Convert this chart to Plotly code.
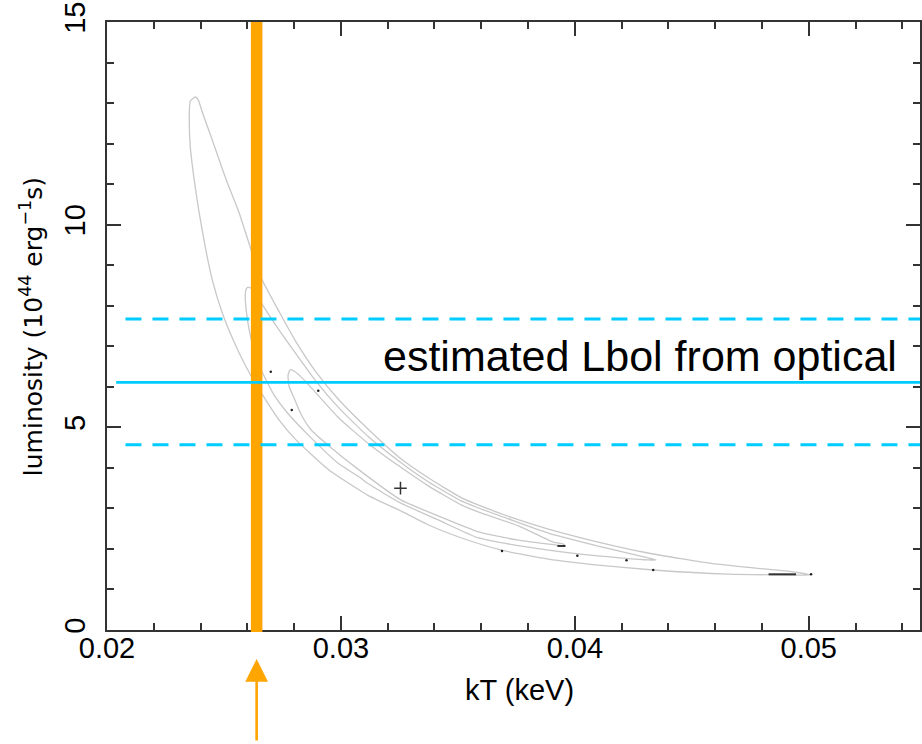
import plotly.graph_objects as go

# ---- data (kT in keV, luminosity in 1e44 erg/s) ----
# 3-sigma contour (outer)
c3_kT = [0.02377, 0.02356, 0.02352, 0.02356, 0.02373, 0.02394, 0.02420, 0.02450, 0.02493, 0.02539,
         0.02595, 0.02663, 0.02736, 0.02808, 0.02949, 0.03119, 0.03256, 0.03375, 0.03516, 0.03687,
         0.03887, 0.04100, 0.04335, 0.04655, 0.05009,
         0.04940, 0.04599, 0.04313, 0.04100, 0.03887, 0.03738, 0.03589, 0.03516, 0.03375, 0.03247,
         0.03119, 0.02991, 0.02893, 0.02808, 0.02736, 0.02663, 0.02616, 0.02565, 0.02510, 0.02450,
         0.02407, 0.02390, 0.02377]
c3_L = [13.15, 13.05, 12.76, 11.92, 11.10, 10.29, 9.45, 8.64, 7.82, 7.16,
        6.49, 5.82, 5.18, 4.69, 3.95, 3.31, 2.94, 2.59, 2.27, 1.97,
        1.75, 1.60, 1.48, 1.38, 1.36,
        1.43, 1.63, 1.90, 2.17, 2.49, 2.76, 3.08, 3.26, 3.75, 4.27,
        4.94, 5.68, 6.37, 7.11, 7.85, 8.64, 9.38, 10.29, 11.10, 12.09,
        12.78, 13.08, 13.15]

# 2-sigma contour
c2_kT = [0.02603, 0.02595, 0.02591, 0.02595, 0.02608, 0.02629, 0.02663, 0.02714, 0.02778, 0.02864,
         0.02991, 0.03077, 0.03119, 0.03256, 0.03418, 0.03589, 0.03887, 0.04100, 0.04313, 0.04347,
         0.04313, 0.04100, 0.03887, 0.03589, 0.03516, 0.03375, 0.03247, 0.03119, 0.02991, 0.02893,
         0.02821, 0.02736, 0.02663, 0.02629, 0.02603]
c2_L = [8.46, 8.41, 8.27, 7.90, 7.40, 6.91, 6.37, 5.80, 5.31, 4.79,
        4.10, 3.78, 3.60, 3.13, 2.71, 2.27, 1.97, 1.83, 1.73, 1.73,
        1.78, 2.07, 2.39, 3.01, 3.18, 3.65, 4.17, 4.76, 5.48, 6.14,
        6.71, 7.40, 8.04, 8.39, 8.46]

# 1-sigma contour (inner)
c1_kT = [0.02783, 0.02774, 0.02778, 0.02800, 0.02829, 0.02872, 0.02949, 0.03077, 0.03256, 0.03418,
         0.03589, 0.03759, 0.03917, 0.03960,
         0.03951, 0.03908, 0.03759, 0.03589, 0.03516, 0.03375, 0.03247, 0.03119, 0.02991, 0.02893,
         0.02834, 0.02804, 0.02783]
c1_L = [6.42, 6.29, 6.02, 5.72, 5.33, 4.94, 4.54, 3.95, 3.21, 2.81,
        2.42, 2.22, 2.10, 2.07,
        2.12, 2.17, 2.57, 2.91, 3.08, 3.55, 4.05, 4.59, 5.23, 5.85,
        6.22, 6.37, 6.42]

best_kT = [0.032546]
best_L = [3.50]

dots_kT = [0.027002, 0.029032, 0.027898, 0.036887, 0.040107, 0.042209, 0.043348, 0.050098]
dots_L = [6.37, 5.90, 5.43, 1.95, 1.83, 1.72, 1.48, 1.374]

dash1_kT = [0.039254, 0.039595]
dash1_L = [2.073, 2.073]
dash2_kT = [0.048281, 0.049458]
dash2_L = [1.374, 1.374]

opt_kT = 0.026397           # vertical marker (orange)
lbol = 6.11                 # estimated Lbol from optical
lbol_hi = 7.67
lbol_lo = 4.57

x_range = [0.02, 0.054755]
y_range = [0, 15]

GRAY = "#c8c8c8"
CYAN = "#00ccff"
ORANGE = "#ffa500"
AX = "#333333"

fig = go.Figure()
for kx, ly in [(c3_kT, c3_L), (c2_kT, c2_L), (c1_kT, c1_L)]:
    fig.add_trace(go.Scatter(x=kx, y=ly, mode="lines",
                             line=dict(color=GRAY, width=1.3, shape="spline", smoothing=0.5),
                             hoverinfo="skip", showlegend=False))

fig.add_trace(go.Scatter(x=dots_kT, y=dots_L, mode="markers",
                         marker=dict(color="#222222", size=2.5), showlegend=False))
for kx, ly in [(dash1_kT, dash1_L), (dash2_kT, dash2_L)]:
    fig.add_trace(go.Scatter(x=kx, y=ly, mode="lines",
                             line=dict(color="#333333", width=2), showlegend=False))
fig.add_trace(go.Scatter(x=best_kT, y=best_L, mode="markers",
                         marker=dict(symbol="cross-thin", size=9, line=dict(color="#333333", width=1.5)),
                         showlegend=False))

# orange vertical band
fig.add_shape(type="line", xref="x", yref="paper", x0=opt_kT, x1=opt_kT, y0=-2/608, y1=1,
              line=dict(color=ORANGE, width=11.5))

# cyan Lbol lines
fig.add_shape(type="line", xref="x", yref="y", x0=0.020392, x1=x_range[1], y0=lbol, y1=lbol,
              line=dict(color=CYAN, width=2.7))
for yv in (lbol_hi, lbol_lo):
    fig.add_shape(type="line", xref="x", yref="y", x0=0.020789, x1=x_range[1], y0=yv, y1=yv,
                  line=dict(color=CYAN, width=3, dash="16px,11px"))

fig.add_annotation(x=0.02 + (641 - 107) / 23450, y=6.76, xref="x", yref="y",
                   text="estimated Lbol from optical", showarrow=False,
                   font=dict(family="Liberation Sans, Arial", size=43, color="black"),
                   xanchor="center", yanchor="middle")

# arrow below axis
fig.add_annotation(x=opt_kT, y=-29/608, xref="x", yref="paper", ax=0, ay=83,
                   text="", showarrow=True, arrowhead=2, arrowsize=1.75, arrowwidth=2.6,
                   arrowcolor=ORANGE)

# axis titles
fig.add_annotation(x=0.02 + (521 - 107) / 23450, y=-60/608, xref="x", yref="paper",
                   text="kT (keV)", showarrow=False,
                   font=dict(family="Liberation Sans, Arial", size=29, color="black"),
                   xanchor="center", yanchor="middle")
fig.add_annotation(x=(31 - 107) / 815, y=(630 - 327) / 608, xref="paper", yref="paper",
                   text="luminosity (10<sup>44</sup> erg<sup>−1</sup>s)", textangle=-90,
                   showarrow=False,
                   font=dict(family="DejaVu Sans", size=25, color="black"),
                   xanchor="center", yanchor="middle")

tickfont = dict(family="Liberation Sans, Arial", size=29, color="black")
fig.update_xaxes(range=x_range, tick0=0.02, dtick=0.01, tickformat=".2f",
                 ticks="inside", ticklen=14, tickwidth=1.5, tickcolor=AX,
                 showline=True, linecolor=AX, linewidth=1.5, mirror="allticks",
                 minor=dict(dtick=0.002, ticks="inside", ticklen=7, tickwidth=1.5, tickcolor=AX),
                 showgrid=False, zeroline=False, tickfont=tickfont, ticklabelstandoff=-9)
fig.update_yaxes(range=y_range, tick0=0, dtick=5, tickangle=-90,
                 ticks="inside", ticklen=14, tickwidth=1.5, tickcolor=AX,
                 showline=True, linecolor=AX, linewidth=1.5, mirror="allticks",
                 minor=dict(dtick=1, ticks="inside", ticklen=7, tickwidth=1.5, tickcolor=AX),
                 showgrid=False, zeroline=False, tickfont=tickfont, ticklabelstandoff=9)

fig.update_layout(width=922, height=744, margin=dict(l=107, r=0, t=22, b=114),
                  plot_bgcolor="white", paper_bgcolor="white", showlegend=False)

fig.write_html("out.html")
